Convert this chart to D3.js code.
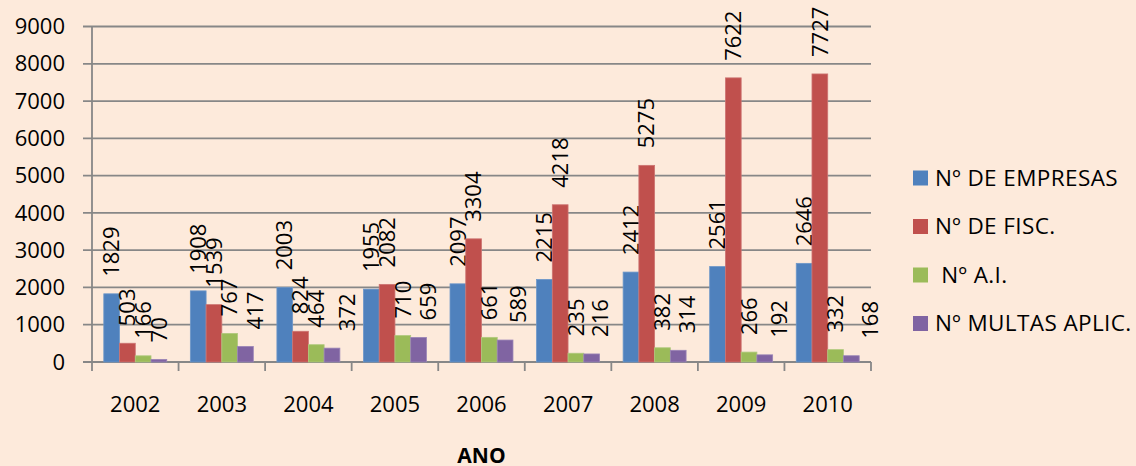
<!DOCTYPE html>
<html>
<head>
<meta charset="utf-8">
<script src="https://cdn.jsdelivr.net/npm/d3@7"></script>
<style>
	html, body { margin: 0; padding: 0; background: #fdeadb; }
	svg { display: block; font-family: 'Open Sans', sans-serif; }
</style>
</head>
<body>
<div id="main-content"></div>
<script>
'use strict'

const years = ['2002', '2003', '2004', '2005', '2006', '2007', '2008', '2009', '2010']
const seriesNames = ['Nº DE EMPRESAS', 'Nº DE FISC.', ' Nº A.I.', 'Nº MULTAS APLIC.']
const empresas = [1829, 1908, 2003, 1955, 2097, 2215, 2412, 2561, 2646]
const fisc = [503, 1539, 824, 2082, 3304, 4218, 5275, 7622, 7727]
const autos = [166, 767, 464, 710, 661, 235, 382, 266, 332]
const multas = [70, 417, 372, 659, 589, 216, 314, 192, 168]
const yTicks = [0, 1000, 2000, 3000, 4000, 5000, 6000, 7000, 8000, 9000]
const colors = ['#4f81bd', '#c0504d', '#9bbb59', '#8064a2']
const strokes = ['#6d97c9', '#cd7472', '#b0c97e', '#9a84b6']

const width = 1136,
		height = 466

const plotLeft = 92, plotRight = 871, plotTop = 26.5, plotBottom = 362

const svg = d3.select('#main-content').append('svg')
	.attr('width', width)
	.attr('height', height)

const allSeries = [empresas, fisc, autos, multas]

const x0 = d3.scaleBand().domain(years).range([plotLeft, plotRight])
const x1 = d3.scaleBand().domain(d3.range(4)).range([11.8, x0.bandwidth() - 11.8])
const y = d3.scaleLinear().domain([0, 9000]).range([plotBottom, plotTop])

// gridlines
svg.append('g')
	.selectAll('line')
	.data(yTicks)
	.enter().append('line')
	.attr('x1', plotLeft - 9)
	.attr('x2', plotRight)
	.attr('y1', d => y(d))
	.attr('y2', d => y(d))
	.attr('stroke', '#878787')
	.attr('stroke-width', 1.8)

// y axis line
svg.append('line')
	.attr('x1', plotLeft).attr('x2', plotLeft)
	.attr('y1', plotTop).attr('y2', plotBottom)
	.attr('stroke', '#878787')
	.attr('stroke-width', 1.8)

// x ticks
svg.append('g')
	.selectAll('line')
	.data(years.concat(['end']))
	.enter().append('line')
	.attr('x1', (d, i) => plotLeft + i * x0.step())
	.attr('x2', (d, i) => plotLeft + i * x0.step())
	.attr('y1', plotBottom)
	.attr('y2', plotBottom + 9)
	.attr('stroke', '#878787')
	.attr('stroke-width', 1.8)

svg.append('g')
	.selectAll('text')
	.data(yTicks)
	.enter().append('text')
	.attr('x', 65)
	.attr('y', d => y(d))
	.attr('dy', '.35em')
	.attr('text-anchor', 'end')
	.attr('font-size', 22)
	.attr('fill', '#000')
	.text(d => d)

svg.append('g')
	.selectAll('text')
	.data(years)
	.enter().append('text')
	.attr('x', d => x0(d) + x0.bandwidth() / 2)
	.attr('y', 412)
	.attr('text-anchor', 'middle')
	.attr('font-size', 22)
	.text(d => d)

svg.append('text')
	.attr('x', (plotLeft + plotRight) / 2)
	.attr('y', 463)
	.attr('text-anchor', 'middle')
	.attr('font-size', 21)
	.attr('font-weight', 'bold')
	.text('ANO')

const groups = svg.append('g')
	.selectAll('g')
	.data(allSeries)
	.enter().append('g')

groups.selectAll('rect')
	.data((vals, s) => vals.map((v, i) => ({ s: s, i: i, year: years[i], v: v })))
	.enter().append('rect')
	.attr('x', d => x0(d.year) + x1(d.s))
	.attr('y', d => y(d.v))
	.attr('width', x1.bandwidth())
	.attr('height', d => plotBottom - y(d.v))
	.attr('fill', d => colors[d.s])
	.attr('stroke', d => strokes[d.s])
	.attr('stroke-width', 0.8)

// the multas labels were dragged sideways by hand in the original
const multasNudge = [0, 10, 15, 10, 13, 9, 9, 15, 19]

groups.selectAll('text')
	.data((vals, s) => vals.map((v, i) => ({ s: s, i: i, year: years[i], v: v })))
	.enter().append('text')
	.attr('transform', d => {
		const cx = x0(d.year) + x1(d.s) + x1.bandwidth() / 2 + (d.s === 3 ? multasNudge[d.i] : 0)
		return 'translate(' + cx + ',' + (y(d.v) - 17) + ') rotate(-90)'
	})
	.attr('dy', '.35em')
	.attr('font-size', 22)
	.text(d => d.v)

const legend = svg.append('g')
	.selectAll('g')
	.data(seriesNames)
	.enter().append('g')
	.attr('transform', (d, i) => 'translate(913,' + (178 + i * 48.5) + ')')

legend.append('rect')
	.attr('x', 0)
	.attr('y', -7.5)
	.attr('width', 15)
	.attr('height', 15)
	.attr('fill', (d, i) => colors[i])

legend.append('text')
	.attr('x', 22)
	.attr('dy', '.35em')
	.attr('font-size', 22.5)
	.attr('letter-spacing', 0.4)
	.style('white-space', 'pre')
	.text(d => d)
</script>
</body>
</html>
